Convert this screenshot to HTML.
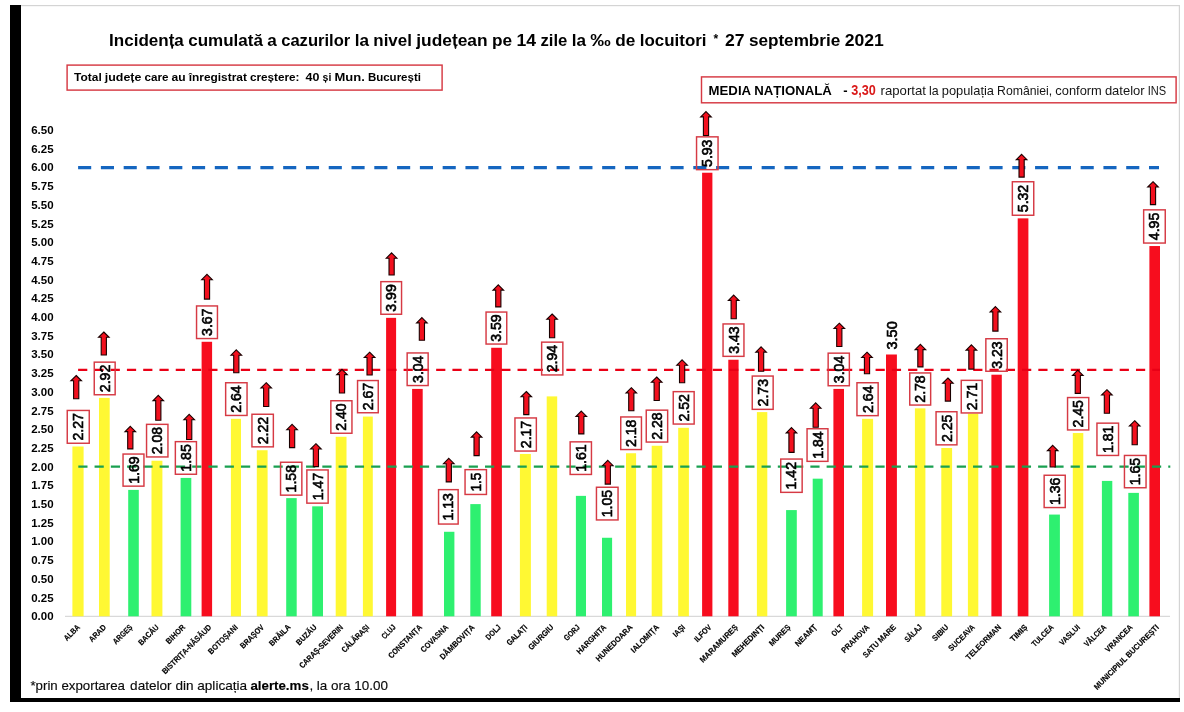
<!DOCTYPE html><html><head><meta charset="utf-8"><title>Incidența cumulată</title><style>
html,body{margin:0;padding:0;background:#fff;}body{width:1184px;height:712px;overflow:hidden;position:relative;}
svg{position:absolute;left:0;top:0;display:block;filter:blur(0.35px);}
text{font-family:"Liberation Sans",Arial,sans-serif;}
</style></head><body>
<svg width="1184" height="712" viewBox="0 0 1184 712">
<rect x="0" y="0" width="1184" height="712" fill="#fff"/>
<rect x="21" y="5" width="1159" height="1.2" fill="#d4d4d4"/>
<rect x="1178.8" y="5" width="1.2" height="693" fill="#d4d4d4"/>
<rect x="10" y="5" width="11" height="697" fill="#000"/>
<rect x="10" y="698" width="1170" height="4" fill="#000"/>
<text x="109.1" y="46.1" font-size="16.8" font-weight="bold" textLength="74.71" lengthAdjust="spacingAndGlyphs" fill="#000">Incidența</text>
<text x="188.18" y="46.1" font-size="16.8" font-weight="bold" textLength="74.72" lengthAdjust="spacingAndGlyphs" fill="#000">cumulată</text>
<text x="267.26" y="46.1" font-size="16.8" font-weight="bold" textLength="9.54" lengthAdjust="spacingAndGlyphs" fill="#000">a</text>
<text x="281.18" y="46.1" font-size="16.8" font-weight="bold" textLength="69.1" lengthAdjust="spacingAndGlyphs" fill="#000">cazurilor</text>
<text x="354.65" y="46.1" font-size="16.8" font-weight="bold" textLength="14.29" lengthAdjust="spacingAndGlyphs" fill="#000">la</text>
<text x="373.3" y="46.1" font-size="16.8" font-weight="bold" textLength="38.56" lengthAdjust="spacingAndGlyphs" fill="#000">nivel</text>
<text x="416.24" y="46.1" font-size="16.8" font-weight="bold" textLength="71.39" lengthAdjust="spacingAndGlyphs" fill="#000">județean</text>
<text x="491.99" y="46.1" font-size="16.8" font-weight="bold" textLength="20.1" lengthAdjust="spacingAndGlyphs" fill="#000">pe</text>
<text x="516.46" y="46.1" font-size="16.8" font-weight="bold" textLength="19.59" lengthAdjust="spacingAndGlyphs" fill="#000">14</text>
<text x="540.43" y="46.1" font-size="16.8" font-weight="bold" textLength="26.91" lengthAdjust="spacingAndGlyphs" fill="#000">zile</text>
<text x="571.7" y="46.1" font-size="16.8" font-weight="bold" textLength="14.29" lengthAdjust="spacingAndGlyphs" fill="#000">la</text>
<text x="590.36" y="46.1" font-size="16.8" font-weight="bold" textLength="20.52" lengthAdjust="spacingAndGlyphs" fill="#000">‰</text>
<text x="615.25" y="46.1" font-size="16.8" font-weight="bold" textLength="20.1" lengthAdjust="spacingAndGlyphs" fill="#000">de</text>
<text x="639.72" y="46.1" font-size="16.8" font-weight="bold" textLength="66.87" lengthAdjust="spacingAndGlyphs" fill="#000">locuitori</text>
<text x="715.77" y="42.5" font-size="12.1" font-weight="bold" text-anchor="middle" fill="#000">*</text>
<text x="724.95" y="46.1" font-size="16.8" font-weight="bold" textLength="19.59" lengthAdjust="spacingAndGlyphs" fill="#000">27</text>
<text x="748.91" y="46.1" font-size="16.8" font-weight="bold" textLength="91.37" lengthAdjust="spacingAndGlyphs" fill="#000">septembrie</text>
<text x="844.65" y="46.1" font-size="16.8" font-weight="bold" textLength="39.18" lengthAdjust="spacingAndGlyphs" fill="#000">2021</text>
<rect x="67.1" y="65.1" width="375" height="25" fill="none" stroke="#D63A44" stroke-width="1.45"/>
<text x="74.1" y="80.9" font-size="11.1" font-weight="bold" textLength="27.68" lengthAdjust="spacingAndGlyphs" fill="#000">Total</text>
<text x="104.88" y="80.9" font-size="11.1" font-weight="bold" textLength="36.45" lengthAdjust="spacingAndGlyphs" fill="#000">județe</text>
<text x="144.42" y="80.9" font-size="11.1" font-weight="bold" textLength="24.01" lengthAdjust="spacingAndGlyphs" fill="#000">care</text>
<text x="171.52" y="80.9" font-size="11.1" font-weight="bold" textLength="14.1" lengthAdjust="spacingAndGlyphs" fill="#000">au</text>
<text x="188.72" y="80.9" font-size="11.1" font-weight="bold" textLength="58.15" lengthAdjust="spacingAndGlyphs" fill="#000">înregistrat</text>
<text x="249.96" y="80.9" font-size="11.1" font-weight="bold" textLength="49.48" lengthAdjust="spacingAndGlyphs" fill="#000">creștere:</text>
<text x="305.64" y="80.9" font-size="11.1" font-weight="bold" textLength="13.87" lengthAdjust="spacingAndGlyphs" fill="#000">40</text>
<text x="322.6" y="80.9" font-size="11.1" font-weight="bold" textLength="8.82" lengthAdjust="spacingAndGlyphs" fill="#000">și</text>
<text x="334.52" y="80.9" font-size="11.1" font-weight="bold" textLength="30.31" lengthAdjust="spacingAndGlyphs" fill="#000">Mun.</text>
<text x="367.92" y="80.9" font-size="11.1" font-weight="bold" textLength="53.01" lengthAdjust="spacingAndGlyphs" fill="#000">București</text>
<rect x="701.5" y="76.9" width="474.6" height="25.9" fill="none" stroke="#D63A44" stroke-width="1.45"/>
<text x="708.6" y="94.6" font-size="13" font-weight="bold" textLength="123.3" lengthAdjust="spacingAndGlyphs" fill="#000">MEDIA NAȚIONALĂ</text>
<text x="843.3" y="94.6" font-size="13" font-weight="bold" fill="#000">-</text>
<text x="851.2" y="94.8" font-size="14.1" font-weight="bold" textLength="24.6" lengthAdjust="spacingAndGlyphs" fill="#DA1A1A">3,30</text>
<text x="880.6" y="94.6" font-size="12.1" textLength="45.35" lengthAdjust="spacingAndGlyphs" fill="#151515">raportat</text>
<text x="929.02" y="94.6" font-size="12.1" textLength="9.63" lengthAdjust="spacingAndGlyphs" fill="#151515">la</text>
<text x="941.73" y="94.6" font-size="12.1" textLength="52.28" lengthAdjust="spacingAndGlyphs" fill="#151515">populația</text>
<text x="997.08" y="94.6" font-size="12.1" textLength="55.18" lengthAdjust="spacingAndGlyphs" fill="#151515">României,</text>
<text x="1055.33" y="94.6" font-size="12.1" textLength="46.5" lengthAdjust="spacingAndGlyphs" fill="#151515">conform</text>
<text x="1104.9" y="94.6" font-size="12.1" textLength="39.73" lengthAdjust="spacingAndGlyphs" fill="#151515">datelor</text>
<text x="1147.7" y="94.6" font-size="12.1" textLength="18.45" lengthAdjust="spacingAndGlyphs" fill="#151515">INS</text>
<text x="53.6" y="620.2" font-size="11" font-weight="bold" text-anchor="end" textLength="22.4" lengthAdjust="spacingAndGlyphs" fill="#000">0.00</text>
<text x="53.6" y="601.5" font-size="11" font-weight="bold" text-anchor="end" textLength="22.4" lengthAdjust="spacingAndGlyphs" fill="#000">0.25</text>
<text x="53.6" y="582.8" font-size="11" font-weight="bold" text-anchor="end" textLength="22.4" lengthAdjust="spacingAndGlyphs" fill="#000">0.50</text>
<text x="53.6" y="564.1" font-size="11" font-weight="bold" text-anchor="end" textLength="22.4" lengthAdjust="spacingAndGlyphs" fill="#000">0.75</text>
<text x="53.6" y="545.4" font-size="11" font-weight="bold" text-anchor="end" textLength="22.4" lengthAdjust="spacingAndGlyphs" fill="#000">1.00</text>
<text x="53.6" y="526.7" font-size="11" font-weight="bold" text-anchor="end" textLength="22.4" lengthAdjust="spacingAndGlyphs" fill="#000">1.25</text>
<text x="53.6" y="508" font-size="11" font-weight="bold" text-anchor="end" textLength="22.4" lengthAdjust="spacingAndGlyphs" fill="#000">1.50</text>
<text x="53.6" y="489.3" font-size="11" font-weight="bold" text-anchor="end" textLength="22.4" lengthAdjust="spacingAndGlyphs" fill="#000">1.75</text>
<text x="53.6" y="470.6" font-size="11" font-weight="bold" text-anchor="end" textLength="22.4" lengthAdjust="spacingAndGlyphs" fill="#000">2.00</text>
<text x="53.6" y="451.9" font-size="11" font-weight="bold" text-anchor="end" textLength="22.4" lengthAdjust="spacingAndGlyphs" fill="#000">2.25</text>
<text x="53.6" y="433.2" font-size="11" font-weight="bold" text-anchor="end" textLength="22.4" lengthAdjust="spacingAndGlyphs" fill="#000">2.50</text>
<text x="53.6" y="414.5" font-size="11" font-weight="bold" text-anchor="end" textLength="22.4" lengthAdjust="spacingAndGlyphs" fill="#000">2.75</text>
<text x="53.6" y="395.8" font-size="11" font-weight="bold" text-anchor="end" textLength="22.4" lengthAdjust="spacingAndGlyphs" fill="#000">3.00</text>
<text x="53.6" y="377.1" font-size="11" font-weight="bold" text-anchor="end" textLength="22.4" lengthAdjust="spacingAndGlyphs" fill="#000">3.25</text>
<text x="53.6" y="358.4" font-size="11" font-weight="bold" text-anchor="end" textLength="22.4" lengthAdjust="spacingAndGlyphs" fill="#000">3.50</text>
<text x="53.6" y="339.7" font-size="11" font-weight="bold" text-anchor="end" textLength="22.4" lengthAdjust="spacingAndGlyphs" fill="#000">3.75</text>
<text x="53.6" y="321" font-size="11" font-weight="bold" text-anchor="end" textLength="22.4" lengthAdjust="spacingAndGlyphs" fill="#000">4.00</text>
<text x="53.6" y="302.3" font-size="11" font-weight="bold" text-anchor="end" textLength="22.4" lengthAdjust="spacingAndGlyphs" fill="#000">4.25</text>
<text x="53.6" y="283.6" font-size="11" font-weight="bold" text-anchor="end" textLength="22.4" lengthAdjust="spacingAndGlyphs" fill="#000">4.50</text>
<text x="53.6" y="264.9" font-size="11" font-weight="bold" text-anchor="end" textLength="22.4" lengthAdjust="spacingAndGlyphs" fill="#000">4.75</text>
<text x="53.6" y="246.2" font-size="11" font-weight="bold" text-anchor="end" textLength="22.4" lengthAdjust="spacingAndGlyphs" fill="#000">5.00</text>
<text x="53.6" y="227.5" font-size="11" font-weight="bold" text-anchor="end" textLength="22.4" lengthAdjust="spacingAndGlyphs" fill="#000">5.25</text>
<text x="53.6" y="208.8" font-size="11" font-weight="bold" text-anchor="end" textLength="22.4" lengthAdjust="spacingAndGlyphs" fill="#000">5.50</text>
<text x="53.6" y="190.1" font-size="11" font-weight="bold" text-anchor="end" textLength="22.4" lengthAdjust="spacingAndGlyphs" fill="#000">5.75</text>
<text x="53.6" y="171.4" font-size="11" font-weight="bold" text-anchor="end" textLength="22.4" lengthAdjust="spacingAndGlyphs" fill="#000">6.00</text>
<text x="53.6" y="152.7" font-size="11" font-weight="bold" text-anchor="end" textLength="22.4" lengthAdjust="spacingAndGlyphs" fill="#000">6.25</text>
<text x="53.6" y="134" font-size="11" font-weight="bold" text-anchor="end" textLength="22.4" lengthAdjust="spacingAndGlyphs" fill="#000">6.50</text>
<rect x="65" y="615.8" width="1105" height="1" fill="#d0d0d0"/>
<rect x="72.4" y="446.5" width="11.2" height="169.8" fill="#FFF833"/>
<rect x="99" y="397.88" width="10.7" height="218.42" fill="#FFF833"/>
<rect x="128.2" y="489.89" width="10.6" height="126.41" fill="#2EF070"/>
<rect x="151.5" y="460.72" width="10.9" height="155.58" fill="#FFF833"/>
<rect x="180.6" y="477.92" width="10.7" height="138.38" fill="#2EF070"/>
<rect x="201.6" y="341.78" width="10.5" height="274.52" fill="#F70D1E"/>
<rect x="230.9" y="418.83" width="10.1" height="197.47" fill="#FFF833"/>
<rect x="256.8" y="450.24" width="10.8" height="166.06" fill="#FFF833"/>
<rect x="286.2" y="498.12" width="10.5" height="118.18" fill="#2EF070"/>
<rect x="312.2" y="506.34" width="10.8" height="109.96" fill="#2EF070"/>
<rect x="335.7" y="436.78" width="10.8" height="179.52" fill="#FFF833"/>
<rect x="362.9" y="416.58" width="9.9" height="199.72" fill="#FFF833"/>
<rect x="386.1" y="317.85" width="10" height="298.45" fill="#F70D1E"/>
<rect x="412.1" y="388.91" width="10.6" height="227.39" fill="#F70D1E"/>
<rect x="444" y="531.78" width="10.4" height="84.52" fill="#2EF070"/>
<rect x="470.3" y="504.1" width="10.4" height="112.2" fill="#2EF070"/>
<rect x="491.2" y="347.77" width="10.7" height="268.53" fill="#F70D1E"/>
<rect x="519.9" y="453.98" width="11" height="162.32" fill="#FFF833"/>
<rect x="546.7" y="396.39" width="10.5" height="219.91" fill="#FFF833"/>
<rect x="575.9" y="495.87" width="10.1" height="120.43" fill="#2EF070"/>
<rect x="602" y="537.76" width="10.1" height="78.54" fill="#2EF070"/>
<rect x="626" y="453.24" width="10.1" height="163.06" fill="#FFF833"/>
<rect x="651.7" y="445.76" width="10.6" height="170.54" fill="#FFF833"/>
<rect x="678.2" y="427.8" width="10.7" height="188.5" fill="#FFF833"/>
<rect x="702.1" y="172.74" width="10.3" height="443.56" fill="#F70D1E"/>
<rect x="728.3" y="359.74" width="10.3" height="256.56" fill="#F70D1E"/>
<rect x="756.9" y="412.1" width="10.4" height="204.2" fill="#FFF833"/>
<rect x="786.1" y="510.08" width="10.7" height="106.22" fill="#2EF070"/>
<rect x="812.7" y="478.67" width="10" height="137.63" fill="#2EF070"/>
<rect x="833.4" y="388.91" width="10.6" height="227.39" fill="#F70D1E"/>
<rect x="862.1" y="418.83" width="11" height="197.47" fill="#FFF833"/>
<rect x="886" y="354.5" width="10.9" height="261.8" fill="#F70D1E"/>
<rect x="914.9" y="408.36" width="10.5" height="207.94" fill="#FFF833"/>
<rect x="941.3" y="448" width="10.8" height="168.3" fill="#FFF833"/>
<rect x="967.9" y="413.59" width="10.4" height="202.71" fill="#FFF833"/>
<rect x="991.4" y="374.7" width="10.4" height="241.6" fill="#F70D1E"/>
<rect x="1017.7" y="218.36" width="10.7" height="397.94" fill="#F70D1E"/>
<rect x="1049.1" y="514.57" width="10.8" height="101.73" fill="#2EF070"/>
<rect x="1072.8" y="433.04" width="10.5" height="183.26" fill="#FFF833"/>
<rect x="1101.9" y="480.91" width="10.4" height="135.39" fill="#2EF070"/>
<rect x="1128.3" y="492.88" width="10.6" height="123.42" fill="#2EF070"/>
<rect x="1149.4" y="246.04" width="10.6" height="370.26" fill="#F70D1E"/>
<line x1="78.1" y1="167.6" x2="1159" y2="167.6" stroke="#1566C0" stroke-width="3.4" stroke-dasharray="13.1 9.685"/>
<line x1="78.1" y1="369.9" x2="1160" y2="369.9" stroke="#EA0016" stroke-width="2.3" stroke-dasharray="9.2 7.075"/>
<line x1="78.3" y1="466.6" x2="1170.3" y2="466.6" stroke="#19A050" stroke-width="2.4" stroke-dasharray="9.2 7.068"/>
<rect x="67.25" y="410.45" width="22" height="32.8" fill="none" stroke="#D63A44" stroke-width="1.45"/>
<text transform="translate(83.25 426.85) rotate(-90)" x="0" y="0" font-size="13.9" text-anchor="middle" textLength="27.4" lengthAdjust="spacingAndGlyphs" fill="#000" stroke="#000" stroke-width="0.62">2.27</text>
<path d="M76.2 375.5L81.5 380.8L78.8 380.8L78.8 398.8L73.6 398.8L73.6 380.8L70.9 380.8Z" fill="#F2101E" stroke="#1a0000" stroke-width="1.1" stroke-linejoin="miter"/>
<rect x="94.25" y="362.15" width="20.9" height="32.6" fill="none" stroke="#D63A44" stroke-width="1.45"/>
<text transform="translate(109.7 378.45) rotate(-90)" x="0" y="0" font-size="13.9" text-anchor="middle" textLength="27.4" lengthAdjust="spacingAndGlyphs" fill="#000" stroke="#000" stroke-width="0.62">2.92</text>
<path d="M103.8 332L109.1 337.3L106.4 337.3L106.4 355L101.2 355L101.2 337.3L98.5 337.3Z" fill="#F2101E" stroke="#1a0000" stroke-width="1.1" stroke-linejoin="miter"/>
<rect x="123.05" y="454.05" width="20.9" height="32.1" fill="none" stroke="#D63A44" stroke-width="1.45"/>
<text transform="translate(138.5 470.1) rotate(-90)" x="0" y="0" font-size="13.9" text-anchor="middle" textLength="27.4" lengthAdjust="spacingAndGlyphs" fill="#000" stroke="#000" stroke-width="0.62">1.69</text>
<path d="M130.3 426.3L135.6 431.6L132.9 431.6L132.9 448.9L127.7 448.9L127.7 431.6L125 431.6Z" fill="#F2101E" stroke="#1a0000" stroke-width="1.1" stroke-linejoin="miter"/>
<rect x="146.55" y="424.35" width="21.4" height="32.6" fill="none" stroke="#D63A44" stroke-width="1.45"/>
<text transform="translate(162.25 440.65) rotate(-90)" x="0" y="0" font-size="13.9" text-anchor="middle" textLength="27.4" lengthAdjust="spacingAndGlyphs" fill="#000" stroke="#000" stroke-width="0.62">2.08</text>
<path d="M158.3 395.3L163.6 400.6L160.9 400.6L160.9 420.2L155.7 420.2L155.7 400.6L153 400.6Z" fill="#F2101E" stroke="#1a0000" stroke-width="1.1" stroke-linejoin="miter"/>
<rect x="175.35" y="441.65" width="21.1" height="32.6" fill="none" stroke="#D63A44" stroke-width="1.45"/>
<text transform="translate(190.9 457.95) rotate(-90)" x="0" y="0" font-size="13.9" text-anchor="middle" textLength="27.4" lengthAdjust="spacingAndGlyphs" fill="#000" stroke="#000" stroke-width="0.62">1.85</text>
<path d="M189.2 414.4L194.5 419.7L191.8 419.7L191.8 439.5L186.6 439.5L186.6 419.7L183.9 419.7Z" fill="#F2101E" stroke="#1a0000" stroke-width="1.1" stroke-linejoin="miter"/>
<rect x="196.55" y="305.95" width="20.9" height="32.6" fill="none" stroke="#D63A44" stroke-width="1.45"/>
<text transform="translate(212 322.25) rotate(-90)" x="0" y="0" font-size="13.9" text-anchor="middle" textLength="27.4" lengthAdjust="spacingAndGlyphs" fill="#000" stroke="#000" stroke-width="0.62">3.67</text>
<path d="M207 274.4L212.3 279.7L209.6 279.7L209.6 299.1L204.4 299.1L204.4 279.7L201.7 279.7Z" fill="#F2101E" stroke="#1a0000" stroke-width="1.1" stroke-linejoin="miter"/>
<rect x="225.65" y="382.75" width="21.4" height="32.7" fill="none" stroke="#D63A44" stroke-width="1.45"/>
<text transform="translate(241.35 399.1) rotate(-90)" x="0" y="0" font-size="13.9" text-anchor="middle" textLength="27.4" lengthAdjust="spacingAndGlyphs" fill="#000" stroke="#000" stroke-width="0.62">2.64</text>
<path d="M236.3 349.9L241.6 355.2L238.9 355.2L238.9 372.8L233.7 372.8L233.7 355.2L231 355.2Z" fill="#F2101E" stroke="#1a0000" stroke-width="1.1" stroke-linejoin="miter"/>
<rect x="251.95" y="414.25" width="21.4" height="32.6" fill="none" stroke="#D63A44" stroke-width="1.45"/>
<text transform="translate(267.65 430.55) rotate(-90)" x="0" y="0" font-size="13.9" text-anchor="middle" textLength="27.4" lengthAdjust="spacingAndGlyphs" fill="#000" stroke="#000" stroke-width="0.62">2.22</text>
<path d="M266.2 382.7L271.5 388L268.8 388L268.8 406.5L263.6 406.5L263.6 388L260.9 388Z" fill="#F2101E" stroke="#1a0000" stroke-width="1.1" stroke-linejoin="miter"/>
<rect x="280.55" y="462.25" width="21.3" height="32.9" fill="none" stroke="#D63A44" stroke-width="1.45"/>
<text transform="translate(296.2 478.7) rotate(-90)" x="0" y="0" font-size="13.9" text-anchor="middle" textLength="27.4" lengthAdjust="spacingAndGlyphs" fill="#000" stroke="#000" stroke-width="0.62">1.58</text>
<path d="M292.1 424.4L297.4 429.7L294.7 429.7L294.7 447.6L289.5 447.6L289.5 429.7L286.8 429.7Z" fill="#F2101E" stroke="#1a0000" stroke-width="1.1" stroke-linejoin="miter"/>
<rect x="306.85" y="469.95" width="21.3" height="33.2" fill="none" stroke="#D63A44" stroke-width="1.45"/>
<text transform="translate(322.5 486.55) rotate(-90)" x="0" y="0" font-size="13.9" text-anchor="middle" textLength="27.4" lengthAdjust="spacingAndGlyphs" fill="#000" stroke="#000" stroke-width="0.62">1.47</text>
<path d="M315.9 443.7L321.2 449L318.5 449L318.5 466.6L313.3 466.6L313.3 449L310.6 449Z" fill="#F2101E" stroke="#1a0000" stroke-width="1.1" stroke-linejoin="miter"/>
<rect x="330.85" y="400.75" width="21.1" height="32.5" fill="none" stroke="#D63A44" stroke-width="1.45"/>
<text transform="translate(346.4 417) rotate(-90)" x="0" y="0" font-size="13.9" text-anchor="middle" textLength="27.4" lengthAdjust="spacingAndGlyphs" fill="#000" stroke="#000" stroke-width="0.62">2.40</text>
<path d="M342 369.3L347.3 374.6L344.6 374.6L344.6 393L339.4 393L339.4 374.6L336.7 374.6Z" fill="#F2101E" stroke="#1a0000" stroke-width="1.1" stroke-linejoin="miter"/>
<rect x="357.55" y="380.55" width="20.7" height="32.2" fill="none" stroke="#D63A44" stroke-width="1.45"/>
<text transform="translate(372.9 396.65) rotate(-90)" x="0" y="0" font-size="13.9" text-anchor="middle" textLength="27.4" lengthAdjust="spacingAndGlyphs" fill="#000" stroke="#000" stroke-width="0.62">2.67</text>
<path d="M369.6 352.2L374.9 357.5L372.2 357.5L372.2 375L367 375L367 357.5L364.3 357.5Z" fill="#F2101E" stroke="#1a0000" stroke-width="1.1" stroke-linejoin="miter"/>
<rect x="380.85" y="281.65" width="20.7" height="32.6" fill="none" stroke="#D63A44" stroke-width="1.45"/>
<text transform="translate(396.2 297.95) rotate(-90)" x="0" y="0" font-size="13.9" text-anchor="middle" textLength="27.4" lengthAdjust="spacingAndGlyphs" fill="#000" stroke="#000" stroke-width="0.62">3.99</text>
<path d="M391.6 252.9L396.9 258.2L394.2 258.2L394.2 275L389 275L389 258.2L386.3 258.2Z" fill="#F2101E" stroke="#1a0000" stroke-width="1.1" stroke-linejoin="miter"/>
<rect x="407.15" y="352.95" width="21" height="32.6" fill="none" stroke="#D63A44" stroke-width="1.45"/>
<text transform="translate(422.65 369.25) rotate(-90)" x="0" y="0" font-size="13.9" text-anchor="middle" textLength="27.4" lengthAdjust="spacingAndGlyphs" fill="#000" stroke="#000" stroke-width="0.62">3.04</text>
<path d="M421.9 317.6L427.2 322.9L424.5 322.9L424.5 340.2L419.3 340.2L419.3 322.9L416.6 322.9Z" fill="#F2101E" stroke="#1a0000" stroke-width="1.1" stroke-linejoin="miter"/>
<rect x="438.55" y="489.65" width="19.6" height="34.4" fill="none" stroke="#D63A44" stroke-width="1.45"/>
<text transform="translate(453.35 506.85) rotate(-90)" x="0" y="0" font-size="13.9" text-anchor="middle" textLength="27.4" lengthAdjust="spacingAndGlyphs" fill="#000" stroke="#000" stroke-width="0.62">1.13</text>
<path d="M448.8 458.4L454.1 463.7L451.4 463.7L451.4 481.9L446.2 481.9L446.2 463.7L443.5 463.7Z" fill="#F2101E" stroke="#1a0000" stroke-width="1.1" stroke-linejoin="miter"/>
<rect x="465.05" y="469.65" width="21.4" height="24.8" fill="none" stroke="#D63A44" stroke-width="1.45"/>
<text transform="translate(480.75 482.05) rotate(-90)" x="0" y="0" font-size="13.9" text-anchor="middle" textLength="19" lengthAdjust="spacingAndGlyphs" fill="#000" stroke="#000" stroke-width="0.62">1.5</text>
<path d="M476.6 431.8L481.9 437.1L479.2 437.1L479.2 455.6L474 455.6L474 437.1L471.3 437.1Z" fill="#F2101E" stroke="#1a0000" stroke-width="1.1" stroke-linejoin="miter"/>
<rect x="486.05" y="312.05" width="20.7" height="32" fill="none" stroke="#D63A44" stroke-width="1.45"/>
<text transform="translate(501.4 328.05) rotate(-90)" x="0" y="0" font-size="13.9" text-anchor="middle" textLength="27.4" lengthAdjust="spacingAndGlyphs" fill="#000" stroke="#000" stroke-width="0.62">3.59</text>
<path d="M498.3 284.8L503.6 290.1L500.9 290.1L500.9 306.9L495.7 306.9L495.7 290.1L493 290.1Z" fill="#F2101E" stroke="#1a0000" stroke-width="1.1" stroke-linejoin="miter"/>
<rect x="514.95" y="417.95" width="21.4" height="33.1" fill="none" stroke="#D63A44" stroke-width="1.45"/>
<text transform="translate(530.65 434.5) rotate(-90)" x="0" y="0" font-size="13.9" text-anchor="middle" textLength="27.4" lengthAdjust="spacingAndGlyphs" fill="#000" stroke="#000" stroke-width="0.62">2.17</text>
<path d="M526.3 391.5L531.6 396.8L528.9 396.8L528.9 414.6L523.7 414.6L523.7 396.8L521 396.8Z" fill="#F2101E" stroke="#1a0000" stroke-width="1.1" stroke-linejoin="miter"/>
<rect x="541.65" y="342.15" width="21.2" height="32.8" fill="none" stroke="#D63A44" stroke-width="1.45"/>
<text transform="translate(557.25 358.55) rotate(-90)" x="0" y="0" font-size="13.9" text-anchor="middle" textLength="27.4" lengthAdjust="spacingAndGlyphs" fill="#000" stroke="#000" stroke-width="0.62">2.94</text>
<path d="M552.1 314L557.4 319.3L554.7 319.3L554.7 337.7L549.5 337.7L549.5 319.3L546.8 319.3Z" fill="#F2101E" stroke="#1a0000" stroke-width="1.1" stroke-linejoin="miter"/>
<rect x="570.15" y="441.85" width="21.3" height="32.6" fill="none" stroke="#D63A44" stroke-width="1.45"/>
<text transform="translate(585.8 458.15) rotate(-90)" x="0" y="0" font-size="13.9" text-anchor="middle" textLength="27.4" lengthAdjust="spacingAndGlyphs" fill="#000" stroke="#000" stroke-width="0.62">1.61</text>
<path d="M581.3 411.1L586.6 416.4L583.9 416.4L583.9 433.9L578.7 433.9L578.7 416.4L576 416.4Z" fill="#F2101E" stroke="#1a0000" stroke-width="1.1" stroke-linejoin="miter"/>
<rect x="596.45" y="487.25" width="21.6" height="32.7" fill="none" stroke="#D63A44" stroke-width="1.45"/>
<text transform="translate(612.25 503.6) rotate(-90)" x="0" y="0" font-size="13.9" text-anchor="middle" textLength="27.4" lengthAdjust="spacingAndGlyphs" fill="#000" stroke="#000" stroke-width="0.62">1.05</text>
<path d="M607.8 460.4L613.1 465.7L610.4 465.7L610.4 484.1L605.2 484.1L605.2 465.7L602.5 465.7Z" fill="#F2101E" stroke="#1a0000" stroke-width="1.1" stroke-linejoin="miter"/>
<rect x="620.75" y="416.95" width="20.7" height="32.6" fill="none" stroke="#D63A44" stroke-width="1.45"/>
<text transform="translate(636.1 433.25) rotate(-90)" x="0" y="0" font-size="13.9" text-anchor="middle" textLength="27.4" lengthAdjust="spacingAndGlyphs" fill="#000" stroke="#000" stroke-width="0.62">2.18</text>
<path d="M631.3 387.7L636.6 393L633.9 393L633.9 410.7L628.7 410.7L628.7 393L626 393Z" fill="#F2101E" stroke="#1a0000" stroke-width="1.1" stroke-linejoin="miter"/>
<rect x="646.25" y="410.15" width="21.4" height="31.9" fill="none" stroke="#D63A44" stroke-width="1.45"/>
<text transform="translate(661.95 426.1) rotate(-90)" x="0" y="0" font-size="13.9" text-anchor="middle" textLength="27.4" lengthAdjust="spacingAndGlyphs" fill="#000" stroke="#000" stroke-width="0.62">2.28</text>
<path d="M656.7 377L662 382.3L659.3 382.3L659.3 400.5L654.1 400.5L654.1 382.3L651.4 382.3Z" fill="#F2101E" stroke="#1a0000" stroke-width="1.1" stroke-linejoin="miter"/>
<rect x="673.25" y="391.65" width="20.9" height="32.4" fill="none" stroke="#D63A44" stroke-width="1.45"/>
<text transform="translate(688.7 407.85) rotate(-90)" x="0" y="0" font-size="13.9" text-anchor="middle" textLength="27.4" lengthAdjust="spacingAndGlyphs" fill="#000" stroke="#000" stroke-width="0.62">2.52</text>
<path d="M682.1 359.9L687.4 365.2L684.7 365.2L684.7 382.8L679.5 382.8L679.5 365.2L676.8 365.2Z" fill="#F2101E" stroke="#1a0000" stroke-width="1.1" stroke-linejoin="miter"/>
<rect x="696.55" y="136.85" width="21.5" height="32.8" fill="none" stroke="#D63A44" stroke-width="1.45"/>
<text transform="translate(712.3 153.25) rotate(-90)" x="0" y="0" font-size="13.9" text-anchor="middle" textLength="27.4" lengthAdjust="spacingAndGlyphs" fill="#000" stroke="#000" stroke-width="0.62">5.93</text>
<path d="M706 111.6L711.3 116.9L708.6 116.9L708.6 135.5L703.4 135.5L703.4 116.9L700.7 116.9Z" fill="#F2101E" stroke="#1a0000" stroke-width="1.1" stroke-linejoin="miter"/>
<rect x="723.05" y="323.95" width="20.9" height="32.4" fill="none" stroke="#D63A44" stroke-width="1.45"/>
<text transform="translate(738.5 340.15) rotate(-90)" x="0" y="0" font-size="13.9" text-anchor="middle" textLength="27.4" lengthAdjust="spacingAndGlyphs" fill="#000" stroke="#000" stroke-width="0.62">3.43</text>
<path d="M733.7 295.1L739 300.4L736.3 300.4L736.3 318.8L731.1 318.8L731.1 300.4L728.4 300.4Z" fill="#F2101E" stroke="#1a0000" stroke-width="1.1" stroke-linejoin="miter"/>
<rect x="752.25" y="376.05" width="20.9" height="33.3" fill="none" stroke="#D63A44" stroke-width="1.45"/>
<text transform="translate(767.7 392.7) rotate(-90)" x="0" y="0" font-size="13.9" text-anchor="middle" textLength="27.4" lengthAdjust="spacingAndGlyphs" fill="#000" stroke="#000" stroke-width="0.62">2.73</text>
<path d="M761.1 346.8L766.4 352.1L763.7 352.1L763.7 371.2L758.5 371.2L758.5 352.1L755.8 352.1Z" fill="#F2101E" stroke="#1a0000" stroke-width="1.1" stroke-linejoin="miter"/>
<rect x="780.75" y="459.05" width="21.4" height="33.3" fill="none" stroke="#D63A44" stroke-width="1.45"/>
<text transform="translate(796.45 475.7) rotate(-90)" x="0" y="0" font-size="13.9" text-anchor="middle" textLength="27.4" lengthAdjust="spacingAndGlyphs" fill="#000" stroke="#000" stroke-width="0.62">1.42</text>
<path d="M791.5 427.6L796.8 432.9L794.1 432.9L794.1 452.4L788.9 452.4L788.9 432.9L786.2 432.9Z" fill="#F2101E" stroke="#1a0000" stroke-width="1.1" stroke-linejoin="miter"/>
<rect x="807.05" y="428.75" width="20.9" height="32.6" fill="none" stroke="#D63A44" stroke-width="1.45"/>
<text transform="translate(822.5 445.05) rotate(-90)" x="0" y="0" font-size="13.9" text-anchor="middle" textLength="27.4" lengthAdjust="spacingAndGlyphs" fill="#000" stroke="#000" stroke-width="0.62">1.84</text>
<path d="M815.7 402.9L821 408.2L818.3 408.2L818.3 427.3L813.1 427.3L813.1 408.2L810.4 408.2Z" fill="#F2101E" stroke="#1a0000" stroke-width="1.1" stroke-linejoin="miter"/>
<rect x="828.15" y="353.15" width="21.2" height="32.6" fill="none" stroke="#D63A44" stroke-width="1.45"/>
<text transform="translate(843.75 369.45) rotate(-90)" x="0" y="0" font-size="13.9" text-anchor="middle" textLength="27.4" lengthAdjust="spacingAndGlyphs" fill="#000" stroke="#000" stroke-width="0.62">3.04</text>
<path d="M839.3 323.2L844.6 328.5L841.9 328.5L841.9 346.5L836.7 346.5L836.7 328.5L834 328.5Z" fill="#F2101E" stroke="#1a0000" stroke-width="1.1" stroke-linejoin="miter"/>
<rect x="856.95" y="382.75" width="21.2" height="32.9" fill="none" stroke="#D63A44" stroke-width="1.45"/>
<text transform="translate(872.55 399.2) rotate(-90)" x="0" y="0" font-size="13.9" text-anchor="middle" textLength="27.4" lengthAdjust="spacingAndGlyphs" fill="#000" stroke="#000" stroke-width="0.62">2.64</text>
<path d="M867 352.2L872.3 357.5L869.6 357.5L869.6 373.7L864.4 373.7L864.4 357.5L861.7 357.5Z" fill="#F2101E" stroke="#1a0000" stroke-width="1.1" stroke-linejoin="miter"/>
<text transform="translate(897.05 335.4) rotate(-90)" x="0" y="0" font-size="13.9" text-anchor="middle" textLength="28.2" lengthAdjust="spacingAndGlyphs" fill="#000" stroke="#000" stroke-width="0.62">3.50</text>
<rect x="909.75" y="372.95" width="20.9" height="32.1" fill="none" stroke="#D63A44" stroke-width="1.45"/>
<text transform="translate(925.2 389) rotate(-90)" x="0" y="0" font-size="13.9" text-anchor="middle" textLength="27.4" lengthAdjust="spacingAndGlyphs" fill="#000" stroke="#000" stroke-width="0.62">2.78</text>
<path d="M920.4 344.3L925.7 349.6L923 349.6L923 366.9L917.8 366.9L917.8 349.6L915.1 349.6Z" fill="#F2101E" stroke="#1a0000" stroke-width="1.1" stroke-linejoin="miter"/>
<rect x="936.05" y="411.75" width="20.9" height="33.1" fill="none" stroke="#D63A44" stroke-width="1.45"/>
<text transform="translate(951.5 428.3) rotate(-90)" x="0" y="0" font-size="13.9" text-anchor="middle" textLength="27.4" lengthAdjust="spacingAndGlyphs" fill="#000" stroke="#000" stroke-width="0.62">2.25</text>
<path d="M947.9 378L953.2 383.3L950.5 383.3L950.5 401.1L945.3 401.1L945.3 383.3L942.6 383.3Z" fill="#F2101E" stroke="#1a0000" stroke-width="1.1" stroke-linejoin="miter"/>
<rect x="961.25" y="380.35" width="20.9" height="32.6" fill="none" stroke="#D63A44" stroke-width="1.45"/>
<text transform="translate(976.7 396.65) rotate(-90)" x="0" y="0" font-size="13.9" text-anchor="middle" textLength="27.4" lengthAdjust="spacingAndGlyphs" fill="#000" stroke="#000" stroke-width="0.62">2.71</text>
<path d="M971.4 344.8L976.7 350.1L974 350.1L974 369.1L968.8 369.1L968.8 350.1L966.1 350.1Z" fill="#F2101E" stroke="#1a0000" stroke-width="1.1" stroke-linejoin="miter"/>
<rect x="985.85" y="338.75" width="21.4" height="32.5" fill="none" stroke="#D63A44" stroke-width="1.45"/>
<text transform="translate(1001.55 355) rotate(-90)" x="0" y="0" font-size="13.9" text-anchor="middle" textLength="27.4" lengthAdjust="spacingAndGlyphs" fill="#000" stroke="#000" stroke-width="0.62">3.23</text>
<path d="M995.4 306.6L1000.7 311.9L998 311.9L998 331.1L992.8 331.1L992.8 311.9L990.1 311.9Z" fill="#F2101E" stroke="#1a0000" stroke-width="1.1" stroke-linejoin="miter"/>
<rect x="1012.35" y="181.75" width="21.4" height="33.5" fill="none" stroke="#D63A44" stroke-width="1.45"/>
<text transform="translate(1028.05 198.5) rotate(-90)" x="0" y="0" font-size="13.9" text-anchor="middle" textLength="27.4" lengthAdjust="spacingAndGlyphs" fill="#000" stroke="#000" stroke-width="0.62">5.32</text>
<path d="M1021.6 154.3L1026.9 159.6L1024.2 159.6L1024.2 177.1L1019 177.1L1019 159.6L1016.3 159.6Z" fill="#F2101E" stroke="#1a0000" stroke-width="1.1" stroke-linejoin="miter"/>
<rect x="1044.15" y="475.25" width="21.1" height="32.3" fill="none" stroke="#D63A44" stroke-width="1.45"/>
<text transform="translate(1059.7 491.4) rotate(-90)" x="0" y="0" font-size="13.9" text-anchor="middle" textLength="27.4" lengthAdjust="spacingAndGlyphs" fill="#000" stroke="#000" stroke-width="0.62">1.36</text>
<path d="M1052.7 445.3L1058 450.6L1055.3 450.6L1055.3 467L1050.1 467L1050.1 450.6L1047.4 450.6Z" fill="#F2101E" stroke="#1a0000" stroke-width="1.1" stroke-linejoin="miter"/>
<rect x="1067.55" y="397.55" width="21.2" height="32.4" fill="none" stroke="#D63A44" stroke-width="1.45"/>
<text transform="translate(1083.15 413.75) rotate(-90)" x="0" y="0" font-size="13.9" text-anchor="middle" textLength="27.4" lengthAdjust="spacingAndGlyphs" fill="#000" stroke="#000" stroke-width="0.62">2.45</text>
<path d="M1077.8 370.1L1083.1 375.4L1080.4 375.4L1080.4 393.4L1075.2 393.4L1075.2 375.4L1072.5 375.4Z" fill="#F2101E" stroke="#1a0000" stroke-width="1.1" stroke-linejoin="miter"/>
<rect x="1096.95" y="423.15" width="21.6" height="32.3" fill="none" stroke="#D63A44" stroke-width="1.45"/>
<text transform="translate(1112.75 439.3) rotate(-90)" x="0" y="0" font-size="13.9" text-anchor="middle" textLength="27.4" lengthAdjust="spacingAndGlyphs" fill="#000" stroke="#000" stroke-width="0.62">1.81</text>
<path d="M1106.9 389.7L1112.2 395L1109.5 395L1109.5 413.3L1104.3 413.3L1104.3 395L1101.6 395Z" fill="#F2101E" stroke="#1a0000" stroke-width="1.1" stroke-linejoin="miter"/>
<rect x="1124.45" y="455.45" width="21.6" height="32.3" fill="none" stroke="#D63A44" stroke-width="1.45"/>
<text transform="translate(1140.25 471.6) rotate(-90)" x="0" y="0" font-size="13.9" text-anchor="middle" textLength="27.4" lengthAdjust="spacingAndGlyphs" fill="#000" stroke="#000" stroke-width="0.62">1.65</text>
<path d="M1134.7 420.7L1140 426L1137.3 426L1137.3 444.8L1132.1 444.8L1132.1 426L1129.4 426Z" fill="#F2101E" stroke="#1a0000" stroke-width="1.1" stroke-linejoin="miter"/>
<rect x="1143.65" y="209.85" width="21.6" height="33.2" fill="none" stroke="#D63A44" stroke-width="1.45"/>
<text transform="translate(1159.45 226.45) rotate(-90)" x="0" y="0" font-size="13.9" text-anchor="middle" textLength="27.4" lengthAdjust="spacingAndGlyphs" fill="#000" stroke="#000" stroke-width="0.62">4.95</text>
<path d="M1153 181.7L1158.3 187L1155.6 187L1155.6 204.6L1150.4 204.6L1150.4 187L1147.7 187Z" fill="#F2101E" stroke="#1a0000" stroke-width="1.1" stroke-linejoin="miter"/>
<text transform="translate(80.4 627.8) rotate(-45)" x="0" y="0" font-size="8.1" font-weight="bold" text-anchor="end" textLength="18.94" lengthAdjust="spacingAndGlyphs" fill="#000" stroke="#000" stroke-width="0.15">ALBA</text>
<text transform="translate(106.72 627.8) rotate(-45)" x="0" y="0" font-size="8.1" font-weight="bold" text-anchor="end" textLength="20.89" lengthAdjust="spacingAndGlyphs" fill="#000" stroke="#000" stroke-width="0.15">ARAD</text>
<text transform="translate(133.04 627.8) rotate(-45)" x="0" y="0" font-size="8.1" font-weight="bold" text-anchor="end" textLength="23.93" lengthAdjust="spacingAndGlyphs" fill="#000" stroke="#000" stroke-width="0.15">ARGEȘ</text>
<text transform="translate(159.36 627.8) rotate(-45)" x="0" y="0" font-size="8.1" font-weight="bold" text-anchor="end" textLength="25.41" lengthAdjust="spacingAndGlyphs" fill="#000" stroke="#000" stroke-width="0.15">BACĂU</text>
<text transform="translate(185.68 627.8) rotate(-45)" x="0" y="0" font-size="8.1" font-weight="bold" text-anchor="end" textLength="23.47" lengthAdjust="spacingAndGlyphs" fill="#000" stroke="#000" stroke-width="0.15">BIHOR</text>
<text transform="translate(212 627.8) rotate(-45)" x="0" y="0" font-size="8.1" font-weight="bold" text-anchor="end" textLength="66.23" lengthAdjust="spacingAndGlyphs" fill="#000" stroke="#000" stroke-width="0.15">BISTRIȚA-NĂSĂUD</text>
<text transform="translate(238.32 627.8) rotate(-45)" x="0" y="0" font-size="8.1" font-weight="bold" text-anchor="end" textLength="38.11" lengthAdjust="spacingAndGlyphs" fill="#000" stroke="#000" stroke-width="0.15">BOTOȘANI</text>
<text transform="translate(264.64 627.8) rotate(-45)" x="0" y="0" font-size="8.1" font-weight="bold" text-anchor="end" textLength="30.16" lengthAdjust="spacingAndGlyphs" fill="#000" stroke="#000" stroke-width="0.15">BRAȘOV</text>
<text transform="translate(290.96 627.8) rotate(-45)" x="0" y="0" font-size="8.1" font-weight="bold" text-anchor="end" textLength="26.37" lengthAdjust="spacingAndGlyphs" fill="#000" stroke="#000" stroke-width="0.15">BRĂILA</text>
<text transform="translate(317.28 627.8) rotate(-45)" x="0" y="0" font-size="8.1" font-weight="bold" text-anchor="end" textLength="25.5" lengthAdjust="spacingAndGlyphs" fill="#000" stroke="#000" stroke-width="0.15">BUZĂU</text>
<text transform="translate(343.6 627.8) rotate(-45)" x="0" y="0" font-size="8.1" font-weight="bold" text-anchor="end" textLength="58.07" lengthAdjust="spacingAndGlyphs" fill="#000" stroke="#000" stroke-width="0.15">CARAȘ-SEVERIN</text>
<text transform="translate(369.92 627.8) rotate(-45)" x="0" y="0" font-size="8.1" font-weight="bold" text-anchor="end" textLength="35.64" lengthAdjust="spacingAndGlyphs" fill="#000" stroke="#000" stroke-width="0.15">CĂLĂRAȘI</text>
<text transform="translate(396.24 627.8) rotate(-45)" x="0" y="0" font-size="8.1" font-weight="bold" text-anchor="end" textLength="16.38" lengthAdjust="spacingAndGlyphs" fill="#000" stroke="#000" stroke-width="0.15">CLUJ</text>
<text transform="translate(422.56 627.8) rotate(-45)" x="0" y="0" font-size="8.1" font-weight="bold" text-anchor="end" textLength="44.06" lengthAdjust="spacingAndGlyphs" fill="#000" stroke="#000" stroke-width="0.15">CONSTANȚA</text>
<text transform="translate(448.88 627.8) rotate(-45)" x="0" y="0" font-size="8.1" font-weight="bold" text-anchor="end" textLength="35.55" lengthAdjust="spacingAndGlyphs" fill="#000" stroke="#000" stroke-width="0.15">COVASNA</text>
<text transform="translate(475.2 627.8) rotate(-45)" x="0" y="0" font-size="8.1" font-weight="bold" text-anchor="end" textLength="45.51" lengthAdjust="spacingAndGlyphs" fill="#000" stroke="#000" stroke-width="0.15">DÂMBOVIȚA</text>
<text transform="translate(501.52 627.8) rotate(-45)" x="0" y="0" font-size="8.1" font-weight="bold" text-anchor="end" textLength="17.98" lengthAdjust="spacingAndGlyphs" fill="#000" stroke="#000" stroke-width="0.15">DOLJ</text>
<text transform="translate(527.84 627.8) rotate(-45)" x="0" y="0" font-size="8.1" font-weight="bold" text-anchor="end" textLength="25.76" lengthAdjust="spacingAndGlyphs" fill="#000" stroke="#000" stroke-width="0.15">GALAȚI</text>
<text transform="translate(554.16 627.8) rotate(-45)" x="0" y="0" font-size="8.1" font-weight="bold" text-anchor="end" textLength="32.07" lengthAdjust="spacingAndGlyphs" fill="#000" stroke="#000" stroke-width="0.15">GIURGIU</text>
<text transform="translate(580.48 627.8) rotate(-45)" x="0" y="0" font-size="8.1" font-weight="bold" text-anchor="end" textLength="19.14" lengthAdjust="spacingAndGlyphs" fill="#000" stroke="#000" stroke-width="0.15">GORJ</text>
<text transform="translate(606.8 627.8) rotate(-45)" x="0" y="0" font-size="8.1" font-weight="bold" text-anchor="end" textLength="38.09" lengthAdjust="spacingAndGlyphs" fill="#000" stroke="#000" stroke-width="0.15">HARGHITA</text>
<text transform="translate(633.12 627.8) rotate(-45)" x="0" y="0" font-size="8.1" font-weight="bold" text-anchor="end" textLength="48.26" lengthAdjust="spacingAndGlyphs" fill="#000" stroke="#000" stroke-width="0.15">HUNEDOARA</text>
<text transform="translate(659.44 627.8) rotate(-45)" x="0" y="0" font-size="8.1" font-weight="bold" text-anchor="end" textLength="36.04" lengthAdjust="spacingAndGlyphs" fill="#000" stroke="#000" stroke-width="0.15">IALOMIȚA</text>
<text transform="translate(685.76 627.8) rotate(-45)" x="0" y="0" font-size="8.1" font-weight="bold" text-anchor="end" textLength="13.86" lengthAdjust="spacingAndGlyphs" fill="#000" stroke="#000" stroke-width="0.15">IAȘI</text>
<text transform="translate(712.08 627.8) rotate(-45)" x="0" y="0" font-size="8.1" font-weight="bold" text-anchor="end" textLength="20.77" lengthAdjust="spacingAndGlyphs" fill="#000" stroke="#000" stroke-width="0.15">ILFOV</text>
<text transform="translate(738.4 627.8) rotate(-45)" x="0" y="0" font-size="8.1" font-weight="bold" text-anchor="end" textLength="49.95" lengthAdjust="spacingAndGlyphs" fill="#000" stroke="#000" stroke-width="0.15">MARAMUREȘ</text>
<text transform="translate(764.72 627.8) rotate(-45)" x="0" y="0" font-size="8.1" font-weight="bold" text-anchor="end" textLength="42.06" lengthAdjust="spacingAndGlyphs" fill="#000" stroke="#000" stroke-width="0.15">MEHEDINȚI</text>
<text transform="translate(791.04 627.8) rotate(-45)" x="0" y="0" font-size="8.1" font-weight="bold" text-anchor="end" textLength="26.51" lengthAdjust="spacingAndGlyphs" fill="#000" stroke="#000" stroke-width="0.15">MUREȘ</text>
<text transform="translate(817.36 627.8) rotate(-45)" x="0" y="0" font-size="8.1" font-weight="bold" text-anchor="end" textLength="27.12" lengthAdjust="spacingAndGlyphs" fill="#000" stroke="#000" stroke-width="0.15">NEAMȚ</text>
<text transform="translate(843.68 627.8) rotate(-45)" x="0" y="0" font-size="8.1" font-weight="bold" text-anchor="end" textLength="13.06" lengthAdjust="spacingAndGlyphs" fill="#000" stroke="#000" stroke-width="0.15">OLT</text>
<text transform="translate(870 627.8) rotate(-45)" x="0" y="0" font-size="8.1" font-weight="bold" text-anchor="end" textLength="36.2" lengthAdjust="spacingAndGlyphs" fill="#000" stroke="#000" stroke-width="0.15">PRAHOVA</text>
<text transform="translate(896.32 627.8) rotate(-45)" x="0" y="0" font-size="8.1" font-weight="bold" text-anchor="end" textLength="42.9" lengthAdjust="spacingAndGlyphs" fill="#000" stroke="#000" stroke-width="0.15">SATU MARE</text>
<text transform="translate(922.64 627.8) rotate(-45)" x="0" y="0" font-size="8.1" font-weight="bold" text-anchor="end" textLength="21.19" lengthAdjust="spacingAndGlyphs" fill="#000" stroke="#000" stroke-width="0.15">SĂLAJ</text>
<text transform="translate(948.96 627.8) rotate(-45)" x="0" y="0" font-size="8.1" font-weight="bold" text-anchor="end" textLength="19.24" lengthAdjust="spacingAndGlyphs" fill="#000" stroke="#000" stroke-width="0.15">SIBIU</text>
<text transform="translate(975.28 627.8) rotate(-45)" x="0" y="0" font-size="8.1" font-weight="bold" text-anchor="end" textLength="33.49" lengthAdjust="spacingAndGlyphs" fill="#000" stroke="#000" stroke-width="0.15">SUCEAVA</text>
<text transform="translate(1001.6 627.8) rotate(-45)" x="0" y="0" font-size="8.1" font-weight="bold" text-anchor="end" textLength="46.1" lengthAdjust="spacingAndGlyphs" fill="#000" stroke="#000" stroke-width="0.15">TELEORMAN</text>
<text transform="translate(1027.92 627.8) rotate(-45)" x="0" y="0" font-size="8.1" font-weight="bold" text-anchor="end" textLength="20.62" lengthAdjust="spacingAndGlyphs" fill="#000" stroke="#000" stroke-width="0.15">TIMIȘ</text>
<text transform="translate(1054.24 627.8) rotate(-45)" x="0" y="0" font-size="8.1" font-weight="bold" text-anchor="end" textLength="27.65" lengthAdjust="spacingAndGlyphs" fill="#000" stroke="#000" stroke-width="0.15">TULCEA</text>
<text transform="translate(1080.56 627.8) rotate(-45)" x="0" y="0" font-size="8.1" font-weight="bold" text-anchor="end" textLength="25.57" lengthAdjust="spacingAndGlyphs" fill="#000" stroke="#000" stroke-width="0.15">VASLUI</text>
<text transform="translate(1106.88 627.8) rotate(-45)" x="0" y="0" font-size="8.1" font-weight="bold" text-anchor="end" textLength="27.61" lengthAdjust="spacingAndGlyphs" fill="#000" stroke="#000" stroke-width="0.15">VÂLCEA</text>
<text transform="translate(1133.2 627.8) rotate(-45)" x="0" y="0" font-size="8.1" font-weight="bold" text-anchor="end" textLength="35.26" lengthAdjust="spacingAndGlyphs" fill="#000" stroke="#000" stroke-width="0.15">VRANCEA</text>
<text transform="translate(1159.52 627.8) rotate(-45)" x="0" y="0" font-size="8.1" font-weight="bold" text-anchor="end" textLength="88.19" lengthAdjust="spacingAndGlyphs" fill="#000" stroke="#000" stroke-width="0.15">MUNICIPIUL BUCUREȘTI</text>
<text x="30.4" y="689.7" font-size="13.6" fill="#0a0a0a" stroke="#0a0a0a" stroke-width="0.15" lengthAdjust="spacingAndGlyphs" textLength="94.6">*prin exportarea</text>
<text x="130.1" y="689.7" font-size="13.6" fill="#0a0a0a" stroke="#0a0a0a" stroke-width="0.15" lengthAdjust="spacingAndGlyphs" textLength="117">datelor din aplicația</text>
<text x="250.4" y="689.7" font-size="13.6" fill="#0a0a0a" stroke="#0a0a0a" stroke-width="0.15" lengthAdjust="spacingAndGlyphs" textLength="58.4" font-weight="bold" style="fill:#000">alerte.ms</text>
<text x="309.4" y="689.7" font-size="13.6" fill="#0a0a0a" stroke="#0a0a0a" stroke-width="0.15" lengthAdjust="spacingAndGlyphs" textLength="78.6">, la ora 10.00</text>
</svg></body></html>
